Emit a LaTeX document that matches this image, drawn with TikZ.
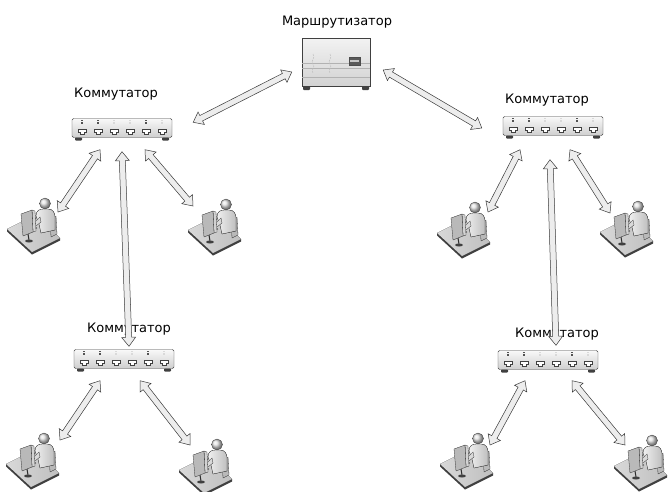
\documentclass[tikz,border=0pt]{standalone}
\usepackage{fontspec}
\setmainfont{DejaVu Sans}
\usetikzlibrary{positioning,calc}

\colorlet{ledon}{gray!65!black}
\colorlet{ledoff}{gray!30}
\colorlet{edge}{gray!50!black}

\begin{document}
\begin{tikzpicture}[x=1pt, y=-1pt,
    devlabel/.style={font=\fontsize{13}{15}\selectfont, anchor=base, inner sep=0pt},
    switchbox/.style={rectangle, rounded corners=1.5pt, draw=edge, top color=gray!5, bottom color=gray!38, minimum width=100pt, minimum height=19pt, inner sep=0pt},
    routerbox/.style={rectangle, draw=edge, top color=gray!10, bottom color=gray!35, minimum width=68pt, minimum height=48pt, inner sep=0pt},
    pcspot/.style={circle, minimum size=2pt, inner sep=0pt},
    % hollow double-headed block arrow between two points
    link/.style={draw=gray!45!black, fill=gray!14, line width=0.5pt, line join=miter,
        to path={(\tikztostart)
            -- ($($(\tikztostart)!9pt!(\tikztotarget)$)!7pt!90:(\tikztotarget)$)
            -- ($($(\tikztostart)!9pt!(\tikztotarget)$)!3pt!90:(\tikztotarget)$)
            -- ($($(\tikztotarget)!9pt!(\tikztostart)$)!3pt!-90:(\tikztostart)$)
            -- ($($(\tikztotarget)!9pt!(\tikztostart)$)!7pt!-90:(\tikztostart)$)
            -- (\tikztotarget)
            -- ($($(\tikztotarget)!9pt!(\tikztostart)$)!7pt!90:(\tikztostart)$)
            -- ($($(\tikztotarget)!9pt!(\tikztostart)$)!3pt!90:(\tikztostart)$)
            -- ($($(\tikztostart)!9pt!(\tikztotarget)$)!3pt!-90:(\tikztotarget)$)
            -- ($($(\tikztostart)!9pt!(\tikztotarget)$)!7pt!-90:(\tikztotarget)$)
            -- cycle}},
    switchface/.pic={
        \foreach \px/\lc in {-40/ledon,-24/ledon,-8/ledoff,8/ledoff,24/ledon,40/ledoff}{
            \fill[\lc] (\px-0.8,-8) rectangle (\px+0.8,-6.8);
            \fill[\lc] (\px-0.8,-5.6) rectangle (\px+0.8,-4.4);
            \draw[edge, fill=white, line width=0.4pt] (\px-4,1) -- (\px+4,1) -- (\px+4,4) -- (\px+2,4) -- (\px+2,6.5) -- (\px-2,6.5) -- (\px-2,4) -- (\px-4,4) -- cycle;
        }
        \fill[black!75, rounded corners=0.8pt] (-47,9.5) rectangle (-40,12.5);
        \fill[black!75, rounded corners=0.8pt] (40,9.5) rectangle (47,12.5);
    },
    routerface/.pic={
        \foreach \ly in {1,6,15}
            \draw[gray!60, line width=0.6pt] (-34,\ly) -- (34,\ly);
        \draw[black!70, fill=gray!70!black] (13,-5) rectangle (24,3);
        \fill[gray!45] (14,-2) rectangle (23,0);
        \foreach \sx in {-23,-6}
            \draw[gray!50, line width=0.5pt, dash pattern=on 2pt off 1pt] (\sx,-8) .. controls (\sx+3,-4) and (\sx-3,-1) .. (\sx,2) .. controls (\sx+3,5) and (\sx-3,8) .. (\sx,11);
        \fill[black!75, rounded corners=0.8pt] (-33,24) rectangle (-26,28);
        \fill[black!75, rounded corners=0.8pt] (26,24) rectangle (33,28);
    },
    workstation/.pic={
        % desk slab
        \fill[gray!50!black] (-26,4) -- (-1,27) -- (27,13) -- (27,15.5) -- (-1,29.5) -- (-26,6.5) -- cycle;
        \fill[left color=gray!30, right color=gray!50] (-26,4) -- (2,-10) -- (27,13) -- (-1,27) -- cycle;
        % chair back
        \fill[gray!55, draw=gray!40!black, line width=0.3pt] (17,-7) -- (23,-9) -- (24,9) -- (18,12) -- cycle;
        % person
        \fill[left color=gray!12, right color=gray!50, draw=gray!40!black, line width=0.3pt]
            (3,-9) .. controls (3,-15) and (7,-16) .. (11,-16) -- (15,-16) .. controls (20,-16) and (22,-12) .. (22,-8) -- (22,5) -- (8,8) -- (6,-1) -- cycle;
        \shade[ball color=gray!25, draw=gray!40!black, line width=0.3pt] (12,-21.5) circle (5.5);
        \fill[gray!30, draw=gray!40!black, line width=0.3pt] (7,-8) -- (-2,1) -- (-1,4) -- (8,-3) -- cycle;
        % keyboard
        \fill[gray!25, draw=gray!45!black, line width=0.3pt] (-6,3) -- (0,0) -- (4,3) -- (-2,6) -- cycle;
        % monitor
        \fill[gray!35, draw=gray!35!black, line width=0.3pt] (-1,-15) -- (2,-14) -- (3,6) -- (0,7) -- cycle;
        \fill[gray!55, draw=gray!35!black, line width=0.3pt] (-12,-11) -- (-1,-15) -- (0,7) -- (-10,11) -- cycle;
        \draw[gray!35!black, line width=1pt] (-5,9) -- (-4,15);
        \fill[gray!50!black] (-4,16) ellipse (4 and 1.5);
    }
]
\useasboundingbox (0,0) rectangle (669,491);

% router on top
\node[routerbox] (rtr) at (336,62) {};
\pic at (rtr) {routerface};
\node[devlabel] (rtrlbl) at (337,25) {Маршрутизатор};

% switches
\node[switchbox] (sw1) at (122,128) {};
\node[switchbox] (sw2) at (553,126) {};
\node[switchbox] (sw3) at (124,359) {};
\node[switchbox] (sw4) at (548,360) {};
\foreach \s in {sw1,sw2,sw3,sw4}
    \pic at (\s) {switchface};
\node[devlabel] (lbl1) at (116,97) {Коммутатор};
\node[devlabel] (lbl2) at (547,103) {Коммутатор};
\node[devlabel] (lbl3) at (129,332) {Коммутатор};
\node[devlabel] (lbl4) at (557,337) {Коммутатор};

% workstations
\node[pcspot] (pc1) at (33,225) {};
\node[pcspot] (pc2) at (214,226) {};
\node[pcspot] (pc3) at (463,229) {};
\node[pcspot] (pc4) at (626,228) {};
\node[pcspot] (pc5) at (32,460) {};
\node[pcspot] (pc6) at (205,466) {};
\node[pcspot] (pc7) at (466,460) {};
\node[pcspot] (pc8) at (640,462) {};
\foreach \p in {pc1,pc2,pc3,pc4,pc5,pc6,pc7,pc8}
    \pic at (\p) {workstation};

% links
\draw[link] ($(sw1.north east)+(21,4)$) to ($(rtr.west)+(-10,10)$);
\draw[link] ($(rtr.east)+(13,8)$) to ($(sw2.west)+(-21,2)$);
\draw[link] ($(sw1.south)+(-22,12)$) to ($(pc1)+(25,-13)$);
\draw[link] ($(sw1.south)+(23,12)$) to ($(pc2)+(-21,-20)$);
\draw[link] ($(sw1.south)+(0,14)$) to ($(sw3.north)+(5,-3)$);
\draw[link] ($(sw2.south)+(-33,14)$) to ($(pc3)+(25,-17)$);
\draw[link] ($(sw2.south)+(17,14)$) to ($(pc4)+(-16,-15)$);
\draw[link] ($(sw2.south)+(-3,24)$) to ($(sw4.north)+(8,-5)$);
\draw[link] ($(sw3.south)+(-24,12)$) to ($(pc5)+(28,-20)$);
\draw[link] ($(sw3.south)+(16,12)$) to ($(pc6)+(-15,-21)$);
\draw[link] ($(sw4.south)+(-23,11)$) to ($(pc7)+(24,-15)$);
\draw[link] ($(sw4.south)+(24,11)$) to ($(pc8)+(-15,-17)$);
\end{tikzpicture}
\end{document}
